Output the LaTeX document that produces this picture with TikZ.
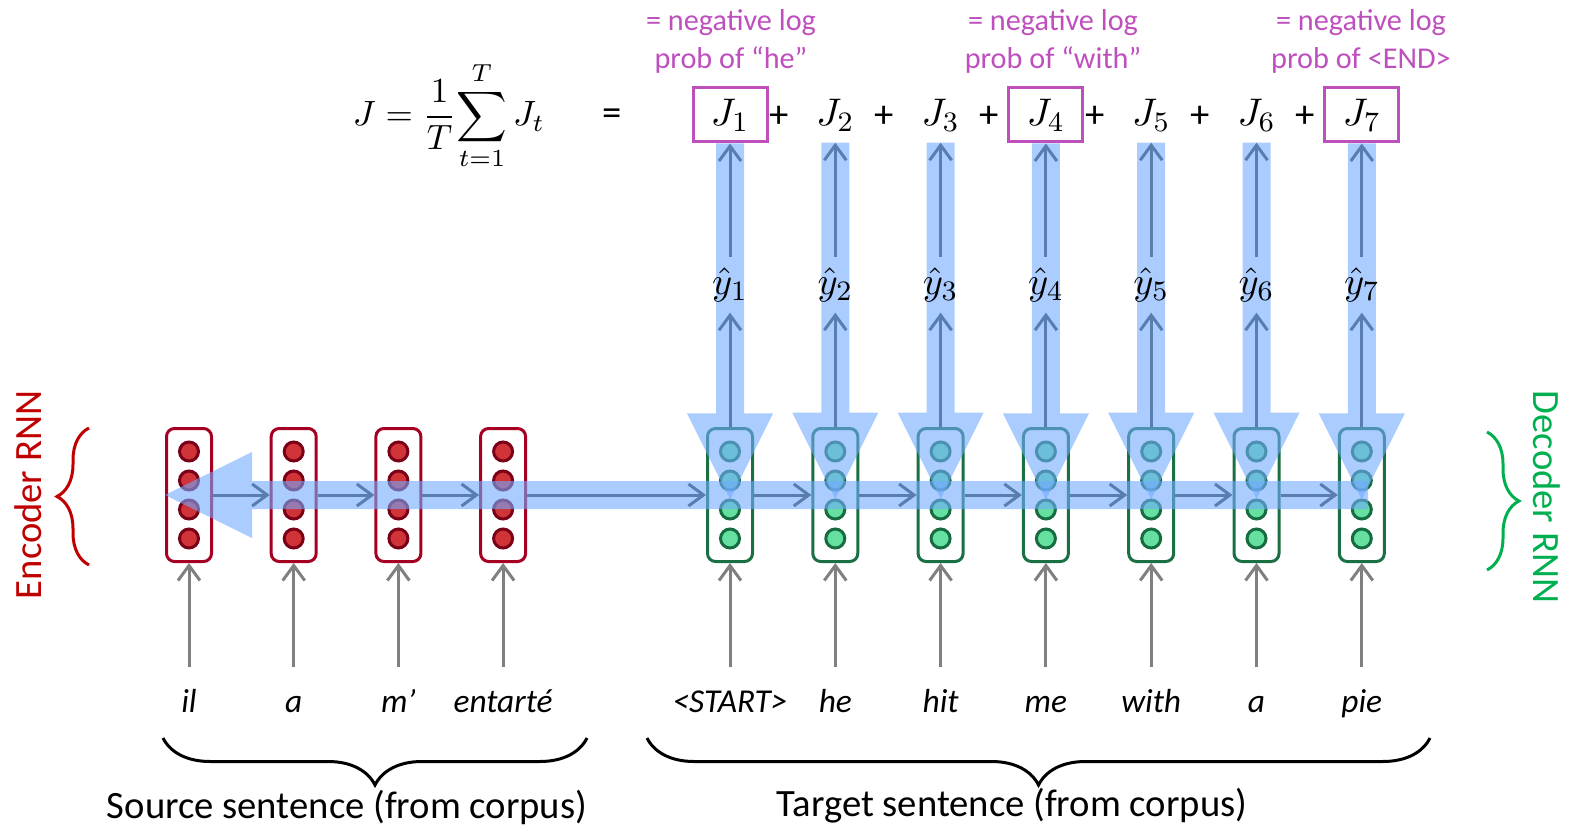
\documentclass[tikz,border=0pt]{standalone}
\usepackage{amsmath}
\usepackage[no-math]{fontspec}
\setmainfont{Carlito}
\usetikzlibrary{arrows.meta, positioning, calc, decorations.pathreplacing}
\definecolor{encred}{RGB}{192,0,0}
\definecolor{encedge}{RGB}{165,0,33}
\definecolor{encdot}{RGB}{208,52,56}
\definecolor{encdotedge}{RGB}{122,0,24}
\definecolor{decgreen}{RGB}{0,176,80}
\definecolor{decedge}{RGB}{26,112,66}
\definecolor{decdot}{RGB}{102,224,160}
\definecolor{decdotedge}{RGB}{22,108,64}
\definecolor{bandblue}{RGB}{113,170,255}
\definecolor{flowblue}{RGB}{90,125,175}
\definecolor{lossmag}{RGB}{190,80,190}

\begin{document}
\begin{tikzpicture}[
    x=0.1mm, y=-0.1mm,
    enccell/.style={rectangle, draw=encedge, line width=0.3mm, rounded corners=0.8mm, minimum width=4.5mm, minimum height=13.3mm, inner sep=0pt},
    deccell/.style={enccell, draw=decedge},
    encunit/.style={circle, draw=encdotedge, fill=encdot, line width=0.3mm, minimum size=1.9mm, inner sep=0pt},
    decunit/.style={encunit, draw=decdotedge, fill=decdot},
    band/.style={fill=bandblue, fill opacity=0.6},
    flow/.style={-{Straight Barb[length=1.5mm, width=2.2mm]}, line width=0.3mm, color=flowblue},
    inarr/.style={flow, color=gray},
    word/.style={font=\fontsize{9.5}{11}\selectfont\itshape, anchor=base, text height=2.7mm, text depth=0.6mm, inner ysep=1.7mm},
    lossterm/.style={minimum width=7.4mm, minimum height=5.4mm, inner sep=0pt, font=\fontsize{11}{13}\selectfont},
    lossbox/.style={lossterm, draw=lossmag, line width=0.3mm},
    neglog/.style={text=lossmag, align=center, font=\fontsize{8.6}{10.8}\selectfont},
    sumtext/.style={font=\fontsize{11}{13}\selectfont},
    sentence/.style={font=\fontsize{11}{13}\selectfont},
    rnnlabel/.style={font=\fontsize{11}{13}\selectfont},
    brace/.style={decorate, decoration={brace, amplitude=#1}, line width=0.3mm}
]
    \useasboundingbox (0,0) rectangle (1575,831);

    % encoder and decoder cells
    \foreach \i in {1,...,4} {
        \node[enccell] (enc\i) at ({189+104.7*(\i-1)}, 495) {};
        \foreach \k/\dy in {1/-43.5, 2/-14.5, 3/14.5, 4/43.5}
            \node[encunit] (enc\i u\k) at ($(enc\i)+(0,\dy)$) {};
    }
    \foreach \i in {1,...,7} {
        \node[deccell] (dec\i) at ({730+105.3*(\i-1)}, 495) {};
        \foreach \k/\dy in {1/-43.5, 2/-14.5, 3/14.5, 4/43.5}
            \node[decunit] (dec\i u\k) at ($(dec\i)+(0,\dy)$) {};
    }

    % loss terms
    \node[font=\fontsize{10}{12}\selectfont] (Jsum) at (449,116) {$\displaystyle J = \frac{1}{T}\!\sum_{t=1}^{T} J_t$};
    \node[sumtext] (eqsign) at (612,117) {=};
    \foreach \i/\sty in {1/lossbox, 2/lossterm, 3/lossterm, 4/lossbox, 5/lossterm, 6/lossterm, 7/lossbox}
        \node[\sty] (J\i) at (dec\i |- 0,115) {$J_{\i}$};
    \foreach \i in {1,...,6}
        \node[sumtext] (plus\i) at ({730+105.3*(\i-1)+49}, 117) {+};

    \node[neglog] (nl1) at (731,41) {= negative log\\prob of “he”};
    \node[neglog] (nl4) at (1053,41) {= negative log\\prob of “with”};
    \node[neglog] (nl7) at (1361,41) {= negative log\\prob of <END>};

    % blue flow of information
    \fill[band] (enc1.west) -- ++(87,-43) -- ++(0,29) -- ++(1116,0) -- ++(0,28) -- ++(-1116,0) -- ++(0,29) -- cycle;
    \foreach \i in {1,...,7}
        \fill[band] (J\i.south) ++(-14,0) -- ++(0,270) -- ++(-29,0) -- ++(43,86) -- ++(43,-86) -- ++(-29,0) -- ++(0,-270) -- cycle;

    % predictions
    \foreach \i in {1,...,7}
        \node[lossterm] (yh\i) at (dec\i |- 0,285) {$\hat{y}_{\i}$};

    \foreach \a/\b in {enc1/enc2, enc2/enc3, enc3/enc4, enc4/dec1, dec1/dec2, dec2/dec3, dec3/dec4, dec4/dec5, dec5/dec6, dec6/dec7}
        \draw[flow] (\a.east) -- (\b.west);
    \foreach \i in {1,...,7} {
        \draw[flow] (dec\i.north) -- (yh\i.south);
        \draw[flow] (yh\i.north) -- (J\i.south);
    }

    % input words
    \foreach \i/\w in {1/il, 2/a, 3/m’, 4/entarté} {
        \node[word] (sw\i) at (enc\i |- 0,712) {\w};
        \draw[inarr] (sw\i.north) -- (enc\i.south);
    }
    \foreach \i/\w in {1/<START>, 2/he, 3/hit, 4/me, 5/with, 6/a, 7/pie} {
        \node[word] (tw\i) at (dec\i |- 0,712) {\w};
        \draw[inarr] (tw\i.north) -- (dec\i.south);
    }

    % braces
    \coordinate (srcL) at (163,738);
    \coordinate (srcR) at (587,738);
    \coordinate (tgtL) at (647,738);
    \coordinate (tgtR) at (1430,738);
    \draw[brace=4.7mm] (srcR) -- (srcL);
    \draw[brace=4.7mm] (tgtR) -- (tgtL);
    \node[sentence] (srclab) at (347,807) {Source sentence (from corpus)};
    \node[sentence] (tgtlab) at (1012,806) {Target sentence (from corpus)};

    \coordinate (encB) at (89,565);
    \coordinate (encT) at (89,428);
    \coordinate (decT) at (1487,432);
    \coordinate (decB) at (1487,570);
    \draw[brace=3.2mm, encred] (encB) -- (encT);
    \draw[brace=3.2mm, decgreen] (decT) -- (decB);
    \node[rnnlabel, rotate=90, text=encred] (enclab) at (28,495) {Encoder RNN};
    \node[rnnlabel, rotate=-90, text=decgreen] (declab) at (1547,497) {Decoder RNN};
\end{tikzpicture}
\end{document}
